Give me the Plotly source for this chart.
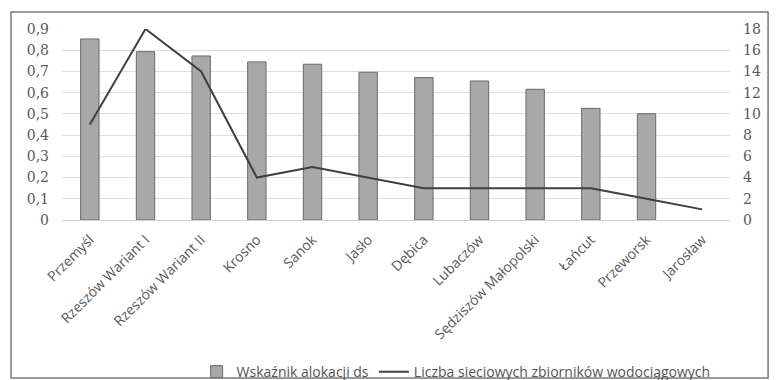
import plotly.graph_objects as go

categories = ["Przemyśl", "Rzeszów Wariant I", "Rzeszów Wariant II", "Krosno", "Sanok", "Jasło",
              "Dębica", "Lubaczów", "Sędziszów Małopolski", "Łańcut", "Przeworsk", "Jarosław"]
allocation = [0.853, 0.793, 0.773, 0.745, 0.734, 0.696, 0.671, 0.655, 0.616, 0.526, 0.501, None]
tanks = [9, 18, 14, 4, 5, 4, 3, 3, 3, 3, 2, 1]

sans = "Open Sans"
serif = "DejaVu Serif"

fig = go.Figure()
fig.add_trace(go.Bar(
    x=categories, y=allocation, name="Wskaźnik alokacji ds",
    marker=dict(color="#a8a8a8", line=dict(color="#6a6a6a", width=1)),
    width=0.33, yaxis="y"))
fig.add_trace(go.Scatter(
    x=categories, y=tanks, name="Liczba sieciowych zbiorników wodociągowych",
    mode="lines", line=dict(color="#404040", width=2), yaxis="y2"))

fig.update_layout(
    width=777, height=380,
    margin=dict(l=62, r=47, t=29, b=160, autoexpand=False),
    paper_bgcolor="white", plot_bgcolor="white",
    separators=", ",
    showlegend=True,
    legend=dict(orientation="h", x=0.59, xanchor="center", y=-0.796, yanchor="middle",
                font=dict(family=sans, size=14, color="#555555"), bgcolor="rgba(0,0,0,0)",
                traceorder="normal"),
    xaxis=dict(tickangle=-45, tickfont=dict(family=sans, size=14, color="#595959"),
               showgrid=False, showline=True, linecolor="#d0d0d0", ticks="", automargin=False,
               ticklabelstandoff=5),
    yaxis=dict(range=[0, 0.9], dtick=0.1, tickfont=dict(family=serif, size=14, color="#595959"),
               showgrid=True, gridcolor="#dedede", zeroline=False, ticks="", showline=False,
               automargin=False, ticklabelstandoff=12),
    yaxis2=dict(range=[0, 18], dtick=2, overlaying="y", side="right",
                tickfont=dict(family=serif, size=14, color="#595959"),
                showgrid=False, zeroline=False, ticks="", showline=False, automargin=False,
                ticklabelstandoff=12),
    shapes=[dict(type="rect", xref="paper", yref="paper", x0=-0.0763, x1=1.057, y0=-0.827, y1=1.089,
                 line=dict(color="#7a7a7a", width=1.5), fillcolor="rgba(0,0,0,0)", layer="below")],
)

fig.write_html("out.html")
